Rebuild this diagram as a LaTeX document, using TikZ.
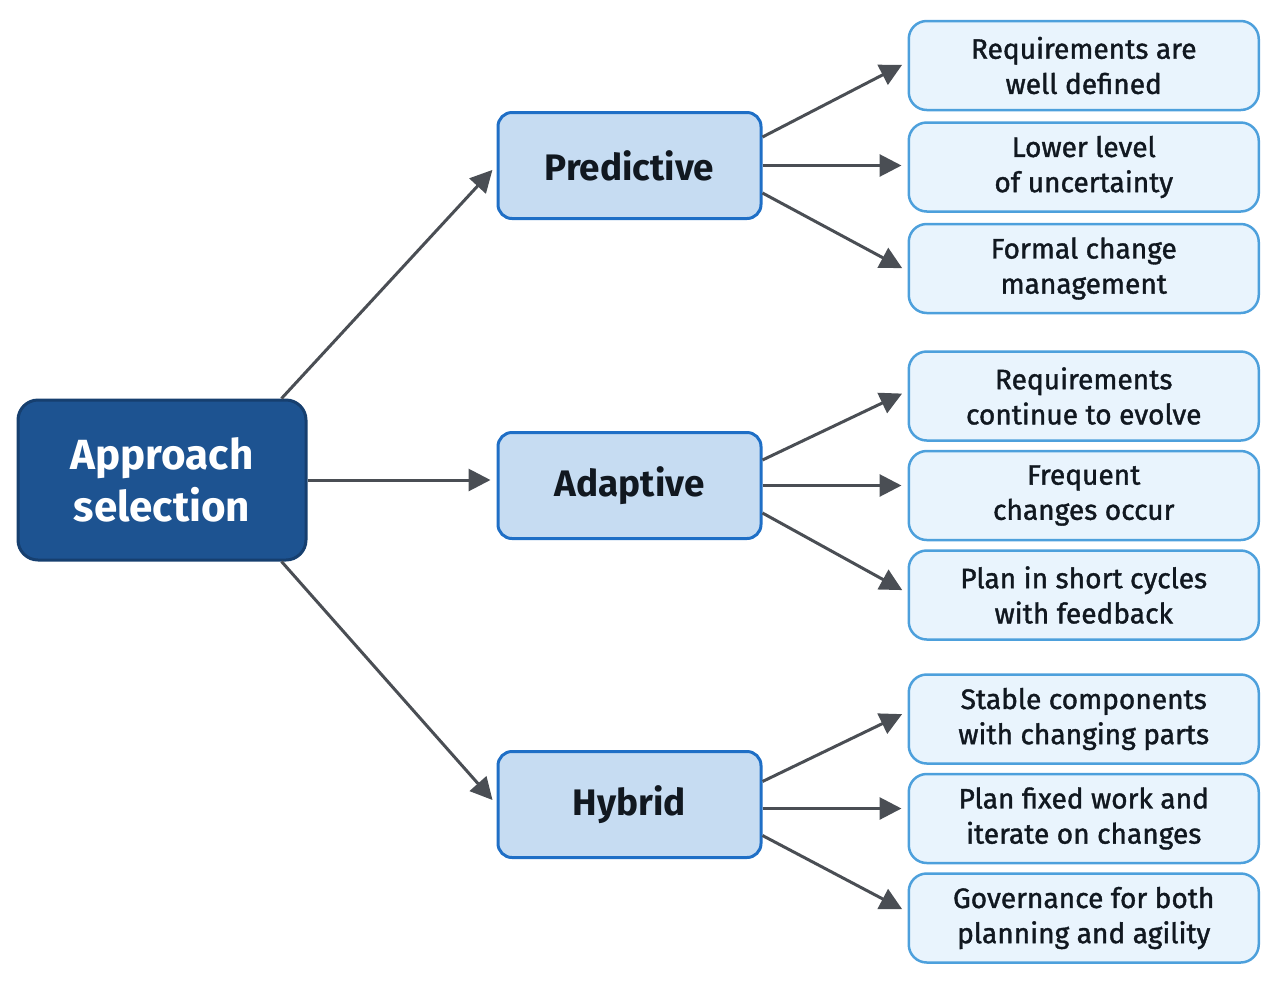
\documentclass[tikz,border=0pt]{standalone}
\usepackage{fontspec}
\setmainfont{Fira Sans}
\newfontfamily\leaffont{Fira Sans}[UprightFeatures={FakeBold=1.3}]
\usepackage{tikz}
\usetikzlibrary{positioning,arrows.meta}
\definecolor{rootfill}{HTML}{1D5391}
\definecolor{rootline}{HTML}{163F6F}
\definecolor{midfill}{HTML}{C6DCF2}
\definecolor{midline}{HTML}{1F6FC6}
\definecolor{leaffill}{HTML}{E9F4FD}
\definecolor{leafline}{HTML}{4DA0DC}
\definecolor{arrcol}{HTML}{4A4E54}
\definecolor{txt}{HTML}{111820}

\begin{document}
\begin{tikzpicture}[
rootbox/.style={rectangle, rounded corners=0.4cm, draw=rootline, fill=rootfill, line width=0.06cm, minimum width=5.76cm, minimum height=3.2cm, align=center, text=white, font=\fontsize{24}{30}\selectfont\bfseries},
midbox/.style={rectangle, rounded corners=0.28cm, draw=midline, fill=midfill, line width=0.06cm, minimum width=5.26cm, minimum height=2.12cm, align=center, text=txt, font=\fontsize{21}{26}\selectfont\bfseries},
leafbox/.style={rectangle, rounded corners=0.36cm, draw=leafline, fill=leaffill, line width=0.05cm, minimum width=7cm, minimum height=1.78cm, align=center, text=txt, font=\fontsize{16}{20}\leaffont},
arr/.style={draw=arrcol, line width=0.06cm, -{Triangle[length=0.44cm,width=0.44cm]}, shorten >=0.12cm}
]
\useasboundingbox (0,0) rectangle (25.48,-19.62);
%Nodes
\node[rootbox]   (root)   at (3.24,-9.6)                          {Approach\\selection};
\node[midbox]    (pred)   at (12.59,-3.31)                        {Predictive};
\node[midbox]    (adapt)  [below=4.22cm of pred]                 {Adaptive};
\node[midbox]    (hyb)    [below=4.2cm of adapt]                 {Hybrid};
\node[leafbox]   (l2)     [right=2.9cm of pred, yshift=-0.03cm]   {Lower level\\of uncertainty};
\node[leafbox]   (l1)     [above=0.2cm of l2]                    {Requirements are\\well defined};
\node[leafbox]   (l3)     [below=0.2cm of l2]                    {Formal change\\management};
\node[leafbox]   (l5)     [right=2.9cm of adapt, yshift=-0.2cm]  {Frequent\\changes occur};
\node[leafbox]   (l4)     [above=0.16cm of l5]                   {Requirements\\continue to evolve};
\node[leafbox]   (l6)     [below=0.16cm of l5]                   {Plan in short cycles\\with feedback};
\node[leafbox]   (l8)     [right=2.9cm of hyb, yshift=-0.28cm]   {Plan fixed work and\\iterate on changes};
\node[leafbox]   (l7)     [above=0.16cm of l8]                   {Stable components\\with changing parts};
\node[leafbox]   (l9)     [below=0.16cm of l8]                   {Governance for both\\planning and agility};
%Lines
\draw[arr] ([xshift=-0.52cm]root.north east) -- (pred.west);
\draw[arr] (root.east) -- (root.east -| adapt.west);
\draw[arr] ([xshift=-0.52cm]root.south east) -- (hyb.west);
\draw[arr] ([yshift=0.57cm]pred.east) -- ([yshift=0.07cm]l1.west);
\draw[arr] (pred.east) -- (pred.east -| l2.west);
\draw[arr] ([yshift=-0.55cm]pred.east) -- ([yshift=-0.05cm]l3.west);
\draw[arr] ([yshift=0.51cm]adapt.east) -- ([yshift=0.1cm]l4.west);
\draw[arr] (adapt.east) -- (adapt.east -| l5.west);
\draw[arr] ([yshift=-0.55cm]adapt.east) -- ([yshift=0.04cm]l6.west);
\draw[arr] ([yshift=0.46cm]hyb.east) -- ([yshift=0.15cm]l7.west);
\draw[arr] ([yshift=-0.08cm]hyb.east) -- ([yshift=-0.08cm]hyb.east -| l8.west);
\draw[arr] ([yshift=-0.62cm]hyb.east) -- ([yshift=0.12cm]l9.west);
\end{tikzpicture}
\end{document}
